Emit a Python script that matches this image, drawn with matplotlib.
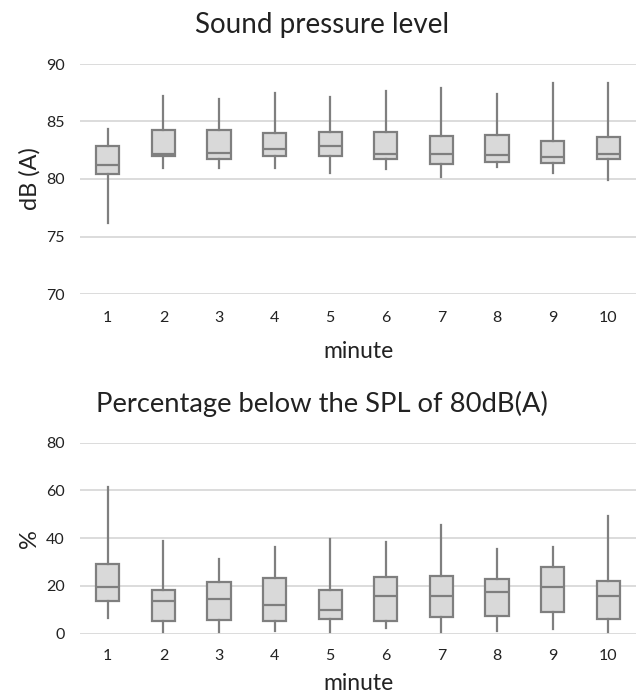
import matplotlib
matplotlib.use("Agg")
import matplotlib.pyplot as plt
import numpy as np

plt.rcParams['font.family'] = ['Lato', 'DejaVu Sans']

minutes = [1, 2, 3, 4, 5, 6, 7, 8, 9, 10]

# Sound pressure level, dB(A)
spl_whislo = [76.15, 80.93, 80.93, 80.93, 80.5, 80.87, 80.2, 81.0, 80.5, 79.91]
spl_q1 = [80.43, 81.97, 81.74, 82.03, 82.0, 81.71, 81.27, 81.45, 81.36, 81.71]
spl_med = [81.2, 82.2, 82.26, 82.58, 82.84, 82.15, 82.17, 82.12, 81.88, 82.17]
spl_q3 = [82.87, 84.23, 84.23, 84.0, 84.12, 84.12, 83.77, 83.86, 83.33, 83.62]
spl_whishi = [84.35, 87.2, 86.93, 87.5, 87.16, 87.65, 87.88, 87.36, 88.38, 88.38]

# Percentage below 80 dB(A)
pct_whislo = [6.7, 0.6, 0.6, 1.3, 0.6, 2.2, 0.6, 1.3, 1.8, 0.6]
pct_q1 = [13.5, 5.2, 5.9, 5.2, 6.0, 5.2, 7.0, 7.4, 9.0, 6.3]
pct_med = [19.4, 13.9, 14.7, 12.0, 9.9, 15.9, 15.9, 17.5, 19.6, 15.9]
pct_q3 = [29.3, 18.2, 21.6, 23.5, 18.2, 23.9, 24.3, 22.8, 28.0, 21.9]
pct_whishi = [61.6, 38.7, 31.4, 36.4, 39.5, 38.3, 45.7, 35.6, 36.4, 49.4]

edge = '#7f7f7f'
fill = '#d9d9d9'
grid = '#d9d9d9'
txt = '#222222'


def make_stats(lo, q1, med, q3, hi):
    return [dict(whislo=a, q1=b, med=c, q3=d, whishi=e, fliers=[])
            for a, b, c, d, e in zip(lo, q1, med, q3, hi)]


def draw(ax, stats, ylabel, ylim, yticks, xpad, xlabpad):
    ax.bxp(stats, positions=minutes, widths=0.42, showcaps=False,
           patch_artist=True,
           boxprops=dict(facecolor=fill, edgecolor=edge, linewidth=1.6),
           medianprops=dict(color=edge, linewidth=1.6),
           whiskerprops=dict(color=edge, linewidth=1.6))
    ax.set_xlim(0.5, 10.5)
    ax.set_ylim(*ylim)
    ax.set_yticks(yticks)
    ax.set_xticks(minutes)
    ax.set_xticklabels([str(m) for m in minutes])
    ax.yaxis.grid(True, color=grid, linewidth=1.3)
    ax.set_axisbelow(True)
    for s in ax.spines.values():
        s.set_visible(False)
    ax.tick_params(axis='y', length=0, labelsize=11.5, colors=txt, pad=11)
    ax.tick_params(axis='x', length=0, labelsize=11.5, colors=txt, pad=xpad)
    ax.set_ylabel(ylabel, fontsize=17, color=txt, labelpad=4)
    ax.set_xlabel('minute', fontsize=16.5, color=txt, labelpad=xlabpad)


fig = plt.figure(figsize=(6.37, 6.99), dpi=100)
ax1 = fig.add_axes([80 / 637, 1 - 294 / 699, 556 / 637, 230 / 699])
ax2 = fig.add_axes([80 / 637, 1 - 633.7 / 699, 556 / 637, 191 / 699])

draw(ax1, make_stats(spl_whislo, spl_q1, spl_med, spl_q3, spl_whishi),
     'dB (A)', (70, 90), [70, 75, 80, 85, 90], 12, 12)
draw(ax2, make_stats(pct_whislo, pct_q1, pct_med, pct_q3, pct_whishi),
     '%', (0, 80), [0, 20, 40, 60, 80], 11, 7)

fig.text(322 / 637, 1 - 33 / 699, 'Sound pressure level', fontsize=20,
         color=txt, ha='center', va='baseline')
fig.text(322 / 637, 1 - 412 / 699, 'Percentage below the SPL of 80dB(A)',
         fontsize=19.7, color=txt, ha='center', va='baseline')

fig.savefig('out.png', dpi=100)
